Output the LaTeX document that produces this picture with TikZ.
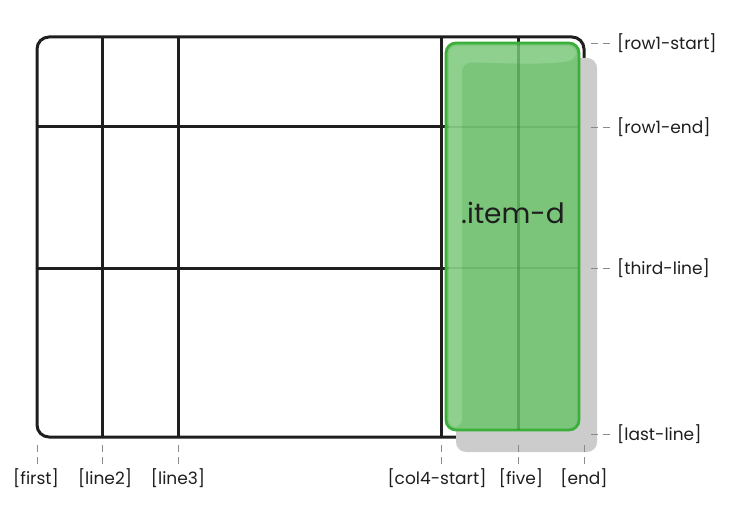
\documentclass[tikz,border=0pt]{standalone}
\usepackage{fontspec}
\setmainfont{Poppins}
\definecolor{gfill}{HTML}{76C576}
\definecolor{gedge}{HTML}{3AAF3A}
\definecolor{ghi}{HTML}{8FD08F}
\definecolor{shad}{HTML}{CCCCCC}
\definecolor{ink}{HTML}{1E1E1E}
\definecolor{dashc}{HTML}{8A8A8A}
\tikzset{
  gridline/.style={draw=ink, line width=3pt},
  lab/.style={font=\fontsize{17}{19}\selectfont, text=ink, inner sep=0pt},
  tick/.style={draw=dashc, line width=0.9pt, dash pattern=on 7pt off 5pt},
}
\begin{document}
\begin{tikzpicture}[x=1pt,y=-1pt]
\useasboundingbox (0,0) rectangle (730,521);
% grid
\draw[gridline, rounded corners=12pt] (37,37) rectangle (584,437);
\coordinate (t2) at (102,37); \coordinate (b2) at (102,437);
\coordinate (t3) at (178,37); \coordinate (b3) at (178,437);
\coordinate (t4) at (441,37); \coordinate (b4) at (441,437);
\coordinate (t5) at (518,37); \coordinate (b5) at (518,437);
\coordinate (l1) at (37,127); \coordinate (r1) at (584,127);
\coordinate (l2) at (37,268); \coordinate (r2) at (584,268);
\draw[gridline] (t2) -- (b2);
\draw[gridline] (t3) -- (b3);
\draw[gridline] (t4) -- (b4);
\draw[gridline] (t5) -- (b5);
\draw[gridline] (l1) -- (r1);
\draw[gridline] (l2) -- (r2);
% shadow
\fill[shad, rounded corners=10pt] (456,58) rectangle (597,452);
% item
\fill[gfill, fill opacity=0.95, rounded corners=10pt] (446,43) rectangle (579,430);
\fill[ghi, rounded corners=8pt] (449,46) -- (576,46) -- (576,60) .. controls (540,66) and (490,62) .. (462,63) -- (462,427) -- (449,427) -- cycle;
\draw[gedge, line width=2.8pt, rounded corners=10pt] (446,43) rectangle (579,430);
\draw[draw=gedge!70!ink, opacity=0.45, line width=3pt] (518,44) -- (518,430);
\draw[draw=gedge!70!ink, opacity=0.2, line width=2pt] (447,127) -- (578,127);
\draw[draw=gedge!70!ink, opacity=0.2, line width=2pt] (447,268) -- (578,268);
\node[font=\fontsize{28}{32}\selectfont, text=ink, inner sep=0pt] (item) at (513,213) {.item-d};
% right labels
\node[lab, anchor=west] (rs) at (617,43) {[row1-start]};
\node[lab, anchor=west] (re) at (617,127) {[row1-end]};
\node[lab, anchor=west] (tl) at (617,268) {[third-line]};
\node[lab, anchor=west] (ll) at (617,434) {[last-line]};
\coordinate (rs0) at (591,43); \coordinate (re0) at (591,127);
\coordinate (tl0) at (591,268); \coordinate (ll0) at (591,434);
\draw[tick] (rs0) -- ([xshift=-6pt]rs.west);
\draw[tick] (re0) -- ([xshift=-6pt]re.west);
\draw[tick] (tl0) -- ([xshift=-6pt]tl.west);
\draw[tick] (ll0) -- ([xshift=-6pt]ll.west);
% bottom labels
\node[lab] (f) at (36,478) {[first]};
\node[lab] (n2) at (105,478) {[line2]};
\node[lab] (n3) at (178,478) {[line3]};
\node[lab] (c4) at (437,478) {[col4-start]};
\node[lab] (fv) at (521,478) {[five]};
\node[lab] (en) at (584,478) {[end]};
\foreach \x/\n in {37/f,102/n2,178/n3,441/c4,518/fv,584/en}{
  \coordinate (a\n) at (\x,445);
  \coordinate (z\n) at (\x,466);
  \draw[tick] (a\n) -- (z\n);
}
\end{tikzpicture}
\end{document}
